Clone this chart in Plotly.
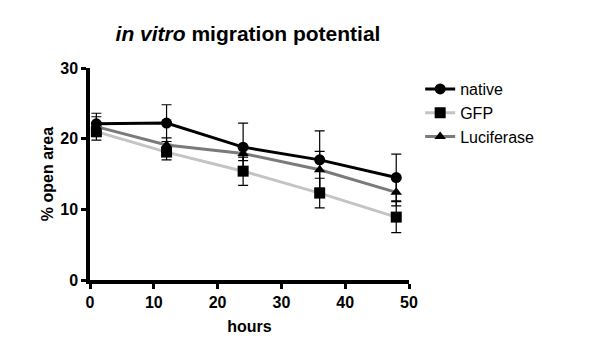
import plotly.graph_objects as go

hours = [1, 12, 24, 36, 48]
native = [22.1, 22.2, 18.8, 17.0, 14.5]
native_err = [1.5, 2.6, 3.4, 4.1, 3.3]
gfp = [21.0, 18.1, 15.4, 12.3, 8.9]
gfp_err = [1.2, 1.1, 2.0, 2.1, 2.2]
luc = [21.7, 19.1, 17.9, 15.6, 12.4]
luc_err = [1.4, 1.0, 1.0, 2.6, 1.9]
x_ticks = [0, 10, 20, 30, 40, 50]
y_ticks = [0, 10, 20, 30]

series = [
    ("native", native, native_err, "black", "circle", 11),
    ("GFP", gfp, gfp_err, "#c4c4c4", "square", 11),
    ("Luciferase", luc, luc_err, "#7a7a7a", "triangle-up", 10),
]

fig = go.Figure()
for name, ys, errs, lc, sym, sz in series:
    fig.add_trace(go.Scatter(
        x=hours, y=ys, name=name, mode="lines+markers",
        line=dict(color=lc, width=3),
        marker=dict(color="black", symbol=sym, size=sz, line=dict(width=0)),
        error_y=dict(type="data", array=errs, visible=True, color="black",
                     thickness=1.2, width=5),
    ))

font = "Liberation Sans, Arial, sans-serif"
fig.update_layout(
    width=600, height=345,
    margin=dict(l=90, r=191, t=68, b=65, autoexpand=False),
    paper_bgcolor="white", plot_bgcolor="white",
    font=dict(family=font, color="black"),
    title=dict(text="<b><i>in vitro</i> migration potential</b>",
               x=(248 / 600), xanchor="center", y=1 - 34 / 345, yanchor="middle",
               font=dict(size=21, family=font, color="black")),
    showlegend=True,
    legend=dict(x=1.035, y=1 - 4 / 212, xanchor="left", yanchor="top",
                font=dict(size=16, family=font, color="black"),
                bgcolor="rgba(0,0,0,0)", tracegroupgap=0, itemwidth=30),
    xaxis=dict(range=[0, 50], tickvals=x_ticks, automargin=False,
               ticktext=["<b>%d</b>" % v for v in x_ticks],
               showline=True, linewidth=3.5, linecolor="black",
               ticks="outside", ticklen=5, tickwidth=2.5, tickcolor="black",
               showgrid=False, zeroline=False,
               tickfont=dict(size=16, family=font, color="black"),
               title=dict(text="<b>hours</b>", font=dict(size=16, family=font), standoff=12)),
    yaxis=dict(range=[0, 30], tickvals=y_ticks, automargin=False,
               ticktext=["<b>%d</b>" % v for v in y_ticks],
               showline=True, linewidth=3.5, linecolor="black",
               ticks="outside", ticklen=5, tickwidth=2.5, tickcolor="black",
               showgrid=False, zeroline=False,
               tickfont=dict(size=16, family=font, color="black"),
               title=dict(text="<b>% open area</b>", font=dict(size=16, family=font), standoff=4)),
)

fig.write_html("out.html")
